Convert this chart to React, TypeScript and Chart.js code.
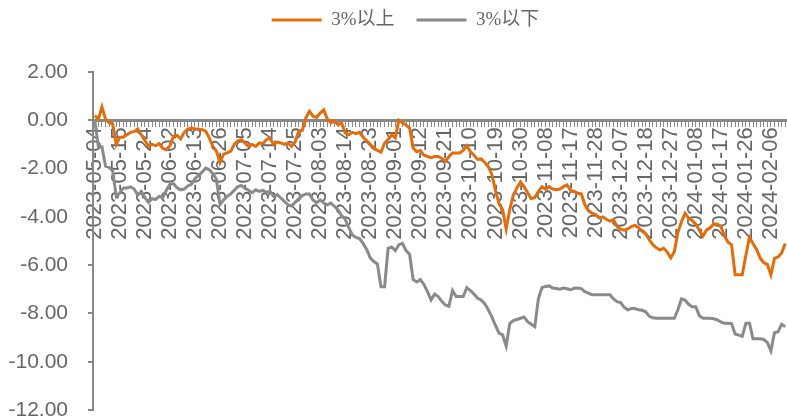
import React, { useEffect, useRef } from 'react';
import { Chart, registerables } from 'chart.js';

Chart.register(...registerables);

// Trading calendar (A-share market) used for the category axis
const FIRST_DAY = '2023-05-04';
const LAST_DAY = '2024-02-20';
const MARKET_HOLIDAYS = [
  '2023-06-22', '2023-06-23',
  '2023-09-29', '2023-10-02', '2023-10-03', '2023-10-04', '2023-10-05', '2023-10-06',
  '2024-01-01',
  '2024-02-09', '2024-02-12', '2024-02-13', '2024-02-14', '2024-02-15', '2024-02-16',
];
const LABEL_EVERY = 7;

const SERIES_NAMES = ['3%以上', '3%以下'];

// 3%以上
const ABOVE_3 = [
  0.2, 0.05, 0.55, 0.05, -0.1, -0.15, -1.0, -0.7, -0.69, -0.6,
  -0.5, -0.47, -0.36, -0.6, -0.83, -1.08, -1.0, -1.05, -0.97, -1.16,
  -1.22, -1.05, -0.66, -0.63, -0.77, -0.5, -0.36, -0.32, -0.36, -0.36,
  -0.39, -0.45, -0.73, -1.08, -1.28, -1.75, -1.4, -1.35, -1.28, -1.0,
  -0.85, -0.8, -0.95, -1.08, -1.0, -1.08, -0.94, -0.97, -0.8, -0.75,
  -1.0, -0.9, -0.94, -1.0, -0.94, -1.08, -0.9, -0.45, -0.42, 0.1,
  0.37, 0.17, 0.12, 0.3, 0.43, 0.05, -0.1, -0.04, -0.18, -0.11,
  -0.52, -0.6, -0.5, -0.55, -0.5, -0.7, -0.85, -1.0, -1.15, -1.25,
  -1.32, -0.95, -0.8, -0.6, -0.72, 0.0, -0.1, -0.2, -0.32, -1.15,
  -1.3, -1.25, -1.45, -1.5, -1.55, -1.5, -1.5, -1.58, -1.7, -1.5,
  -1.35, -1.35, -1.35, -1.25, -1.05, -1.3, -1.45, -1.62, -1.6, -1.75,
  -1.92, -2.25, -2.9, -3.45, -3.7, -4.5, -3.7, -3.1, -2.8, -2.55,
  -2.75, -3.0, -3.25, -3.2, -2.95, -2.75, -2.85, -2.75, -2.85, -2.88,
  -2.85, -2.75, -2.68, -2.9, -2.95, -3.02, -3.05, -3.5, -3.75, -3.85,
  -3.9, -4.05, -4.0, -4.1, -4.18, -4.12, -4.4, -4.52, -4.55, -4.5,
  -4.4, -4.35, -4.45, -4.6, -4.7, -4.95, -5.15, -5.28, -5.37, -5.3,
  -5.45, -5.7, -5.45, -4.65, -4.2, -3.85, -4.05, -4.15, -4.3, -4.55,
  -4.8, -4.55, -4.45, -4.3, -4.3, -4.4, -4.78, -5.05, -5.15, -6.4,
  -6.4, -6.4, -5.6, -4.85, -5.1, -5.35, -5.7, -5.9, -5.97, -6.4,
  -5.72, -5.66, -5.5, -5.1,
];

// 3%以下
const BELOW_3 = [
  0.0, -1.1, -1.1, -1.9, -1.95, -2.1, -3.15, -3.0, -2.8, -2.8,
  -2.76, -2.85, -3.1, -2.95, -3.2, -3.4, -3.25, -3.28, -3.15, -3.2,
  -2.9, -2.65, -2.62, -2.8, -2.88, -2.85, -2.72, -2.65, -2.42, -2.28,
  -2.15, -1.98, -2.05, -2.2, -2.45, -3.5, -3.3, -3.15, -3.05, -2.9,
  -2.75, -2.7, -2.82, -2.9, -3.0, -2.88, -2.95, -2.9, -2.98, -2.95,
  -3.15, -3.08, -3.22, -3.36, -3.5, -3.55, -3.4, -3.25, -3.12, -3.05,
  -3.05, -3.3, -3.42, -3.3, -3.43, -3.5, -3.43, -3.57, -3.7, -3.95,
  -4.1, -4.45, -4.75, -4.85, -4.9, -5.1, -5.35, -5.7, -5.85, -5.95,
  -6.89, -6.89, -5.3, -5.25, -5.4, -5.15, -5.1, -5.4, -5.55, -6.6,
  -6.7, -6.6, -6.8, -7.1, -7.44, -7.2, -7.3, -7.5, -7.65, -7.7,
  -7.05, -7.3, -7.3, -7.3, -6.93, -7.05, -7.2, -7.37, -7.44, -7.6,
  -7.85, -8.15, -8.5, -8.82, -8.89, -9.35, -8.42, -8.3, -8.25, -8.2,
  -8.15, -8.34, -8.45, -8.55, -7.4, -6.93, -6.88, -6.86, -6.95, -6.97,
  -7.0, -6.95, -6.98, -7.02, -6.96, -6.95, -6.97, -7.1, -7.16, -7.23,
  -7.23, -7.23, -7.23, -7.23, -7.23, -7.4, -7.51, -7.55, -7.75, -7.85,
  -7.8, -7.8, -7.85, -7.87, -7.93, -8.12, -8.18, -8.2, -8.2, -8.2,
  -8.2, -8.2, -8.2, -7.85, -7.4, -7.45, -7.62, -7.72, -7.72, -8.1,
  -8.2, -8.2, -8.2, -8.22, -8.27, -8.35, -8.41, -8.41, -8.42, -8.85,
  -8.9, -8.95, -8.41, -8.4, -9.05, -9.05, -9.05, -9.08, -9.2, -9.55,
  -8.8, -8.76, -8.45, -8.55,
];

const Y_MIN = -12;
const Y_MAX = 2;
const Y_STEP = 2;

const ORANGE = '#E46C0A';
const GREY = '#8A8A8A';
const AXIS = '#888888';
const TEXT = '#666666';
const SANS = "'Liberation Sans', Arial, sans-serif";
const LEGEND_FONT = "'Liberation Serif', 'Noto Sans CJK SC', serif";

function tradingDays(from: string, to: string, holidays: string[]): string[] {
  const out: string[] = [];
  const d = new Date(from + 'T00:00:00Z');
  const end = new Date(to + 'T00:00:00Z');
  while (d <= end) {
    const dow = d.getUTCDay();
    const s = d.toISOString().slice(0, 10);
    if (dow !== 0 && dow !== 6 && !holidays.includes(s)) out.push(s);
    d.setUTCDate(d.getUTCDate() + 1);
  }
  return out;
}

const DATES = tradingDays(FIRST_DAY, LAST_DAY, MARKET_HOLIDAYS);

// Reserve a band above the plot for the legend and nudge the legend row into place
const LEGEND_BAND = 72;
const LEGEND_DX = 12;
const LEGEND_DY = -11.5;

const legendPlacement = {
  id: 'legendPlacement',
  beforeInit(chart: any) {
    const legend = chart.legend;
    if (!legend) return;
    const fit = legend.fit;
    legend.fit = function () {
      fit.call(this);
      this.height = LEGEND_BAND;
    };
  },
  afterLayout(chart: any) {
    const l = chart.legend;
    if (!l) return;
    l.left += LEGEND_DX;
    l.right += LEGEND_DX;
    l.top += LEGEND_DY;
    l.bottom += LEGEND_DY;
  },
};

export default function App() {
  const ref = useRef<HTMLCanvasElement>(null);

  useEffect(() => {
    document.body.style.margin = '0';
    const canvas = ref.current;
    if (!canvas) return;

    const chart = new Chart(canvas, {
      type: 'line',
      data: {
        labels: DATES,
        datasets: [
          {
            label: SERIES_NAMES[0],
            data: ABOVE_3,
            borderColor: ORANGE,
            backgroundColor: ORANGE,
            borderWidth: 3,
            pointRadius: 0,
            tension: 0,
          },
          {
            label: SERIES_NAMES[1],
            data: BELOW_3,
            borderColor: GREY,
            backgroundColor: GREY,
            borderWidth: 3,
            pointRadius: 0,
            tension: 0,
          },
        ],
      },
      options: {
        responsive: false,
        animation: false,
        devicePixelRatio: 1,
        layout: { padding: 0 },
        plugins: {
          tooltip: { enabled: false },
          legend: {
            display: true,
            position: 'top',
            labels: {
              boxWidth: 50,
              boxHeight: 3,
              padding: 22,
              color: TEXT,
              font: { family: LEGEND_FONT, size: 19 },
              generateLabels: (c: any) =>
                (Chart.defaults.plugins.legend.labels.generateLabels as any)(c).map((item: any) => ({
                  ...item,
                  lineWidth: 0,
                  fillStyle: item.strokeStyle,
                })),
            },
          },
        },
        scales: {
          x: {
            type: 'category',
            offset: true,
            position: { y: 0 } as any,
            border: { display: true, color: AXIS, width: 3 },
            grid: {
              display: true,
              drawOnChartArea: false,
              drawTicks: true,
              tickLength: 5,
              color: AXIS,
              lineWidth: 1,
            },
            ticks: {
              autoSkip: false,
              minRotation: 90,
              maxRotation: 90,
              padding: 2,
              color: TEXT,
              font: { family: SANS, size: 22 },
              callback: (_v: any, index: number) => (index % LABEL_EVERY === 0 ? DATES[index] : ''),
            },
            afterFit: (s: any) => {
              s.paddingLeft = 0;
              s.paddingRight = 0;
            },
          },
          y: {
            min: Y_MIN,
            max: Y_MAX,
            border: { display: true, color: AXIS, width: 2 },
            grid: {
              display: true,
              drawOnChartArea: false,
              drawTicks: true,
              tickLength: 5,
              color: AXIS,
              lineWidth: 2,
            },
            ticks: {
              stepSize: Y_STEP,
              padding: 20,
              color: TEXT,
              font: { family: SANS, size: 21 },
              callback: (v: any) => Number(v).toFixed(2),
            },
            afterFit: (s: any) => {
              s.width = 93;
              s.paddingTop = 0;
              s.paddingBottom = 8;
            },
          },
        },
      },
      plugins: [legendPlacement],
    });

    return () => chart.destroy();
  }, []);

  return <canvas ref={ref} width={787} height={418} style={{ display: 'block' }} />;
}
